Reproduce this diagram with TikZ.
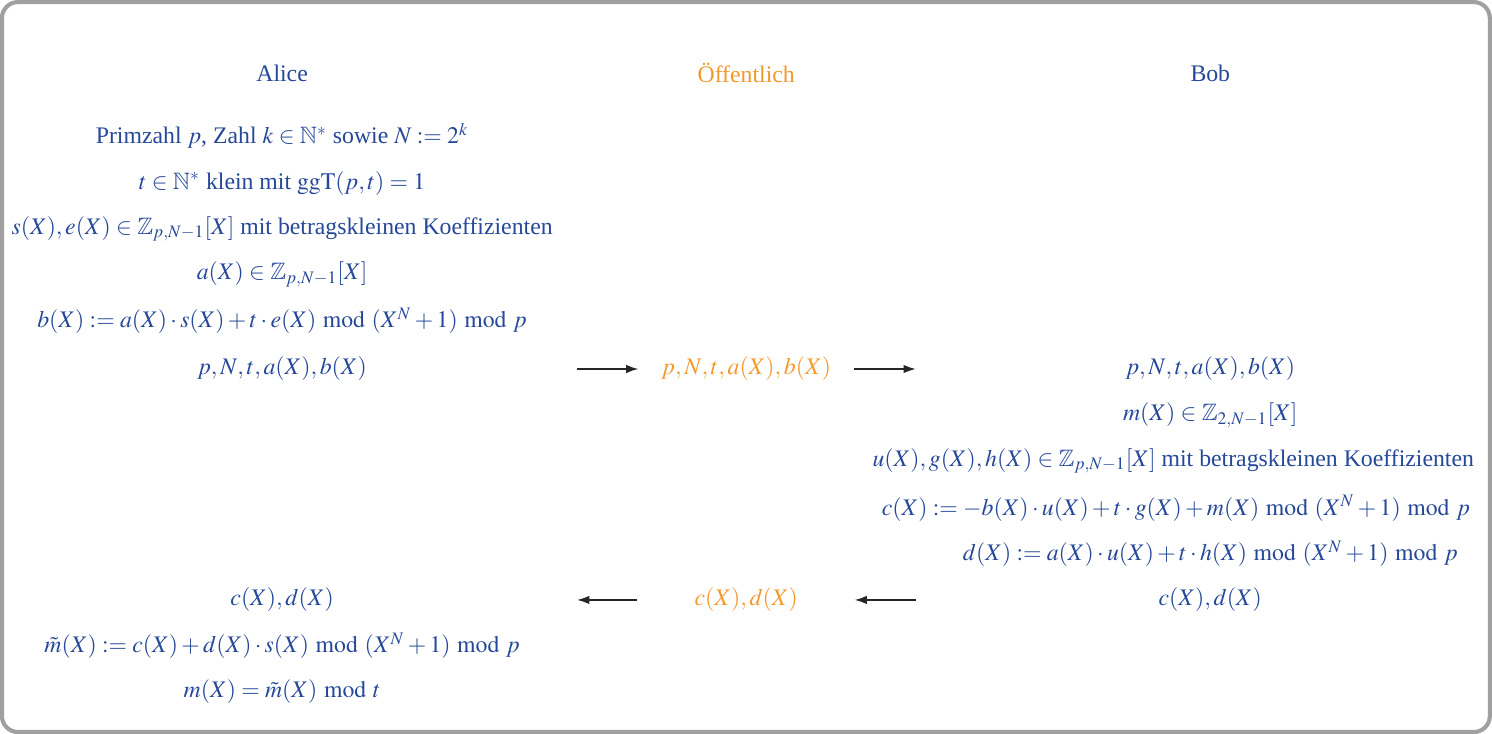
\documentclass[tikz,border=0pt]{standalone}
\usepackage{amsmath, amssymb}
\usepackage{mathptmx}
\usepackage[no-math]{fontspec}
\setmainfont{Liberation Serif}
\usepackage{xcolor}
\usetikzlibrary{arrows.meta, positioning}

\definecolor{partyblue}{RGB}{38,72,153}
\definecolor{puborange}{RGB}{243,152,43}
\definecolor{framegray}{RGB}{160,160,160}

\tikzset{
  party/.style={text=partyblue, inner sep=1pt, font=\fontsize{10.4pt}{12.5pt}\selectfont},
  pub/.style={text=puborange, inner sep=1pt, font=\fontsize{10.4pt}{12.5pt}\selectfont},
  arr/.style={-{Latex[length=1.9mm,width=1.3mm]}, line width=0.7pt, black!85}
}

\begin{document}
\begin{tikzpicture}
    \useasboundingbox (0,0) rectangle (22.954,11.292);
    % Frame
    \draw[framegray, line width=1.8pt, rounded corners=7pt] (0.03,0.03) rectangle (22.92,11.26);

    % Titles
    \node[party] (alice) at (4.34,10.165) {Alice};
    \node[pub] (public) at (11.48,10.165) {Öffentlich};
    \node[party] (bob) at (18.62,10.165) {Bob};

    % Alice: key generation
    \node[party] (a1) at (4.34,9.20) {Primzahl $p$, Zahl $k\in\mathbb{N}^*$ sowie $N:=2^k$};
    \node[party] (a2) at (4.34,8.475) {$t\in\mathbb{N}^*$ klein mit $\operatorname{ggT}(p,t)=1$};
    \node[party] (a3) at (4.34,7.77) {$s(X),e(X)\in\mathbb{Z}_{p,N-1}[X]$ mit betragskleinen Koeffizienten};
    \node[party] (a4) at (4.34,7.075) {$a(X)\in\mathbb{Z}_{p,N-1}[X]$};
    \node[party] (a5) at (4.34,6.355) {$b(X):=a(X)\cdot s(X)+t\cdot e(X)\bmod (X^N+1)\bmod p$};
    \node[party] (a6) at (4.34,5.615) {$p,N,t,a(X),b(X)$};

    % Public key
    \node[pub] (o1) at (11.48,5.615) {$p,N,t,a(X),b(X)$};
    \coordinate (l1) at (8.877,5.615);
    \coordinate (r1) at (14.09,5.615);
    \draw[arr, shorten >=0.31cm] (l1) -- (o1);
    \draw[arr, shorten <=0.31cm] (o1) -- (r1);

    % Bob: encryption
    \node[party] (b1) at (18.62,5.615) {$p,N,t,a(X),b(X)$};
    \node[party] (b2) at (18.62,4.905) {$m(X)\in\mathbb{Z}_{2,N-1}[X]$};
    \node[party] (b3) at (18.05,4.20) {$u(X),g(X),h(X)\in\mathbb{Z}_{p,N-1}[X]$ mit betragskleinen Koeffizienten};
    \node[party] (b4) at (18.09,3.475) {$c(X):=-b(X)\cdot u(X)+t\cdot g(X)+m(X)\bmod (X^N+1)\bmod p$};
    \node[party] (b5) at (18.62,2.77) {$d(X):=a(X)\cdot u(X)+t\cdot h(X)\bmod (X^N+1)\bmod p$};
    \node[party] (b6) at (18.62,2.062) {$c(X),d(X)$};

    % Ciphertext
    \node[pub] (o2) at (11.48,2.062) {$c(X),d(X)$};
    \coordinate (l2) at (8.877,2.062);
    \coordinate (r2) at (14.09,2.062);
    \draw[arr, shorten >=0.83cm] (r2) -- (o2);
    \draw[arr, shorten <=0.84cm] (o2) -- (l2);

    % Alice: decryption
    \node[party] (a7) at (4.34,2.062) {$c(X),d(X)$};
    \node[party] (a8) at (4.34,1.355) {$\tilde{m}(X):=c(X)+d(X)\cdot s(X)\bmod (X^N+1)\bmod p$};
    \node[party] (a9) at (4.34,0.645) {$m(X)=\tilde{m}(X)\bmod t$};
\end{tikzpicture}
\end{document}
